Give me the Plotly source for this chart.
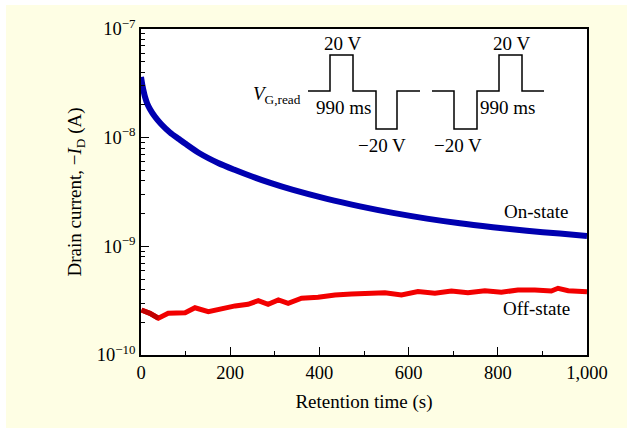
import plotly.graph_objects as go

# ---------------- data ----------------
on_t = [0, 3, 6, 9, 14, 20, 31, 45, 65, 85, 99, 132, 173, 211, 249, 290, 341, 417, 491, 565,
        641, 715, 789, 865, 939, 1000]
on_i = [3.62e-8, 3.05e-8, 2.66e-8, 2.37e-8, 2.06e-8, 1.84e-8, 1.565e-8, 1.335e-8, 1.116e-8,
        9.72e-9, 8.84e-9, 7.15e-9, 5.85e-9, 5.04e-9, 4.39e-9, 3.83e-9, 3.30e-9, 2.73e-9,
        2.33e-9, 2.03e-9, 1.80e-9, 1.63e-9, 1.50e-9, 1.39e-9, 1.31e-9, 1.245e-9]

off_t = [1, 20, 39, 61, 99, 121, 151, 181, 211, 240, 263, 285, 308, 330, 360, 397, 435, 472, 509,
         547, 584, 621, 659, 696, 733, 771, 808, 845, 883, 920, 935, 958, 1000]
off_i = [2.59e-10, 2.42e-10, 2.18e-10, 2.42e-10, 2.45e-10, 2.72e-10, 2.50e-10, 2.69e-10, 2.83e-10,
         2.93e-10, 3.16e-10, 2.93e-10, 3.21e-10, 2.99e-10, 3.33e-10, 3.40e-10, 3.57e-10, 3.64e-10,
         3.70e-10, 3.74e-10, 3.57e-10, 3.83e-10, 3.70e-10, 3.88e-10, 3.74e-10, 3.91e-10, 3.78e-10,
         3.96e-10, 3.96e-10, 3.88e-10, 4.11e-10, 3.91e-10, 3.83e-10]

x_ticks = [0, 200, 400, 600, 800, 1000]
x_ticktext = ["0", "200", "400", "600", "800", "1,000"]
x_minor = [100, 300, 500, 700, 900]
y_ticks = [1e-10, 1e-9, 1e-8, 1e-7]
y_ticktext = ["10<sup>\u221210</sup>", "10<sup>\u22129</sup>", "10<sup>\u22128</sup>", "10<sup>\u22127</sup>"]
y_minor = [m * 10.0 ** e for e in (-10, -9, -8) for m in range(2, 10)]

# inset schematic (pulse waveforms) in inset-local units (pixels from plot top-left)
pulse1_x = [167, 189, 189, 212, 212, 235, 235, 256, 256, 279]
pulse1_y = [62, 62, 26, 26, 62, 62, 100, 100, 62, 62]
pulse2_x = [291, 313, 313, 336, 336, 358, 358, 381, 381, 403]
pulse2_y = [62, 62, 100, 100, 62, 62, 26, 26, 62, 62]

FONT = "Liberation Serif"
FS = 19
L, R, T, B = 141, 45, 29, 75
W, H = 632, 430
PW, PH = W - L - R, H - T - B

fig = go.Figure()

fig.add_trace(go.Scatter(x=off_t, y=off_i, mode="lines",
                         line=dict(color="#f20000", width=5), showlegend=False))
fig.add_trace(go.Scatter(x=off_t[:3], y=off_i[:3], mode="lines",
                         line=dict(color="#c00000", width=5), showlegend=False))
fig.add_trace(go.Scatter(x=on_t, y=on_i, mode="lines",
                         line=dict(color="#0000b0", width=6, shape="spline", smoothing=0.8),
                         showlegend=False))

for px, py in ((pulse1_x, pulse1_y), (pulse2_x, pulse2_y)):
    fig.add_trace(go.Scatter(x=px, y=py, mode="lines", xaxis="x2", yaxis="y2",
                             line=dict(color="black", width=1.5), showlegend=False,
                             hoverinfo="skip"))

# backgrounds
fx = lambda p: (p - L) / PW
fy = lambda p: (H - B - p) / PH
fig.add_shape(type="rect", xref="paper", yref="paper", layer="below",
              x0=fx(6), x1=fx(627), y0=fy(428), y1=fy(5),
              fillcolor="#fefee4", line=dict(width=0))
fig.add_shape(type="rect", xref="paper", yref="paper", layer="below",
              x0=0, x1=1, y0=0, y1=1, fillcolor="white", line=dict(width=0))

ann = [
    ("20 V", 342, 43, "center"), ("20 V", 511, 43, "center"),
    ("990 ms", 343, 107, "center"), ("990 ms", 507, 107, "center"),
    ("\u221220 V", 382, 145, "center"), ("\u221220 V", 458, 145, "center"),
    ("On-state", 536, 211, "center"), ("Off-state", 536, 308, "center"),
]
for txt, ax_, ay_, al in ann:
    fig.add_annotation(text=txt, x=ax_ - L, y=ay_ - T, xref="x2", yref="y2",
                       showarrow=False, xanchor=al, yanchor="middle",
                       font=dict(family=FONT, size=FS, color="black"))
fig.add_annotation(text="<i>V</i><sub>G,read</sub>", x=303 - L, y=95 - T, xref="x2", yref="y2",
                   showarrow=False, xanchor="right", yanchor="middle",
                   font=dict(family=FONT, size=FS, color="black"))

fig.update_layout(
    width=W, height=H,
    margin=dict(l=L, r=R, t=T, b=B),
    paper_bgcolor="white", plot_bgcolor="white",
    font=dict(family=FONT, size=FS, color="black"),
    xaxis=dict(range=[0, 1000], tickvals=x_ticks, ticktext=x_ticktext, automargin=False,
               ticks="inside", ticklen=8, tickwidth=1.2, tickcolor="black",
               showline=True, linecolor="black", linewidth=1.5, mirror=True,
               showgrid=False, zeroline=False,
               minor=dict(tickvals=x_minor, ticks="inside",
                          ticklen=4, tickcolor="black", tickwidth=1, showgrid=False),
               title=dict(text="Retention time (s)", font=dict(size=FS), standoff=13),
               tickfont=dict(size=18.5)),
    yaxis=dict(type="log", range=[-10, -7], tickvals=y_ticks, ticktext=y_ticktext,
               automargin=False,
               ticks="inside", ticklen=8, tickwidth=1.2, tickcolor="black",
               showline=True, linecolor="black", linewidth=1.5, mirror=True,
               showgrid=False, zeroline=False,
               minor=dict(tickvals=y_minor, ticks="inside", ticklen=4,
                          tickcolor="black", tickwidth=1, showgrid=False),
               title=dict(text="Drain current, \u2212<i>I</i><sub>D</sub> (A)",
                          font=dict(size=FS), standoff=10),
               tickfont=dict(size=18.5)),
    xaxis2=dict(overlaying="x", range=[0, PW], visible=False, fixedrange=True),
    yaxis2=dict(overlaying="y", range=[PH, 0], visible=False, fixedrange=True),
)

fig.write_html("out.html", config={"displayModeBar": False},
               post_script="document.body.style.margin='0';")
